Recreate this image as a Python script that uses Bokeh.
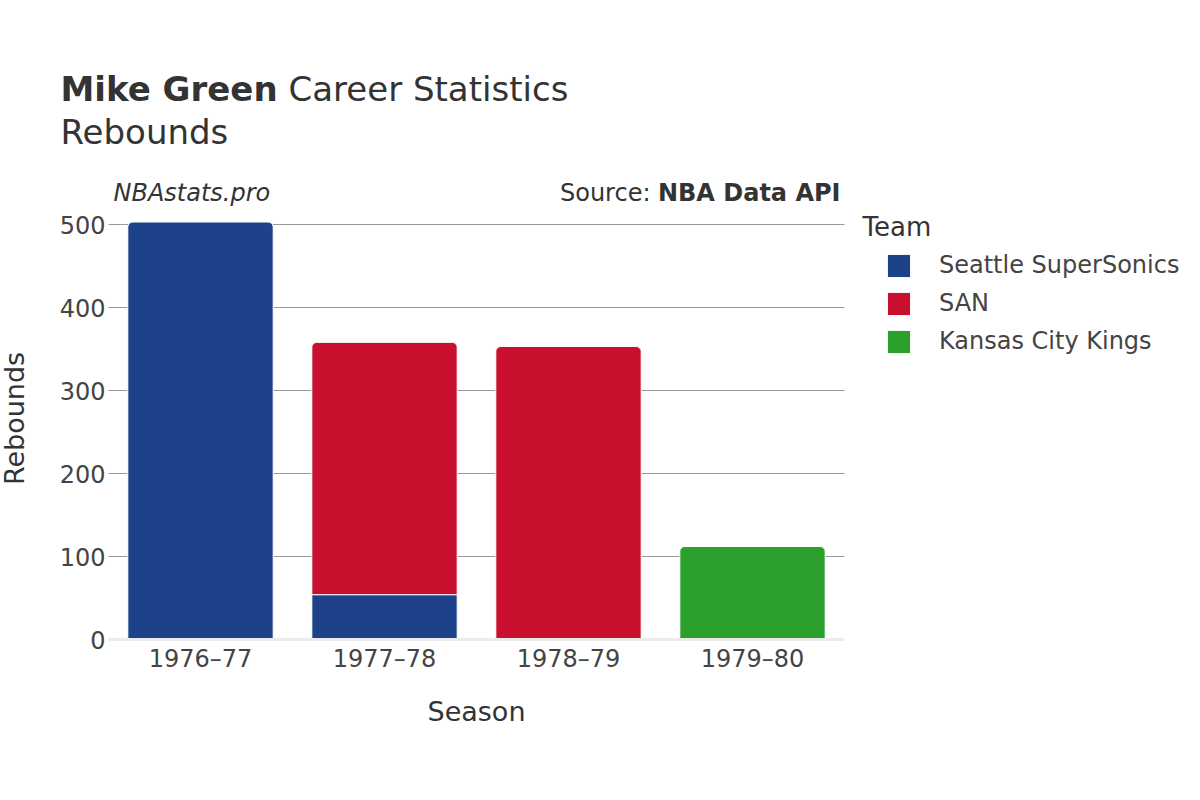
import math
from bokeh.plotting import figure
from bokeh.models import (ColumnDataSource, Range1d, Label, Legend, LegendItem,
                          FixedTicker)
from bokeh.embed import file_html
from bokeh.resources import INLINE

# ---- data ----
seasons = ["1976–77", "1977–78", "1978–79", "1979–80"]
teams = ["Seattle SuperSonics", "SAN", "Kansas City Kings"]
seattle = [503, 54, 0, 0]
san = [0, 304, 353, 0]
kc = [0, 0, 0, 112]
team_values = [seattle, san, kc]
team_colors = ["#1d428a", "#c8102e", "#2ca02c"]
y_ticks = [0, 100, 200, 300, 400, 500]

FONT = "DejaVu Sans"
TXT = "#444444"
TITLE = "#333333"

W, H = 1184, 784
# plot area in canvas pixels
FL, FR, FB = 108, 844, 639
PX_PER_CAT = (FR - FL) / len(seasons)
PX_PER_UNIT = 0.83

xpos = list(range(1, len(seasons) + 1))
x0 = 0.5 - FL / PX_PER_CAT
y0 = -(H - FB) / PX_PER_UNIT

p = figure(width=W, height=H,
           x_range=Range1d(x0, x0 + W / PX_PER_CAT),
           y_range=Range1d(y0, y0 + H / PX_PER_UNIT),
           output_backend="svg", toolbar_location=None,
           min_border_left=0, min_border_right=0, min_border_top=0,
           min_border_bottom=0)
p.title = None
p.outline_line_color = None
p.background_fill_color = "white"
p.border_fill_color = "white"
p.xgrid.visible = False
p.ygrid.visible = False

# ---- grid lines (from the tick list) ----
gy = y_ticks[1:]
p.segment(x0=[0.5] * len(gy), x1=[len(seasons) + 0.5] * len(gy), y0=gy, y1=gy,
          line_color="#999999", line_width=1)

# ---- bars (stacked) ----
cum = [0] * len(seasons)
legend_items = []
for ti, (team, vals, col) in enumerate(zip(teams, team_values, team_colors)):
    r_top = {"x": [], "bottom": [], "top": []}
    r_mid = {"x": [], "bottom": [], "top": []}
    for i, v in enumerate(vals):
        if v <= 0:
            continue
        b = cum[i]
        t = cum[i] + v
        cum[i] = t
        is_top = all(team_values[k][i] == 0 for k in range(ti + 1, len(teams)))
        d = r_top if is_top else r_mid
        d["x"].append(xpos[i]); d["bottom"].append(b); d["top"].append(t)
    rends = []
    if r_top["x"]:
        rends.append(p.vbar(x="x", bottom="bottom", top="top", width=0.79,
                            source=ColumnDataSource(r_top), fill_color=col,
                            line_color="white", line_width=1,
                            border_radius=(5, 5, 0, 0)))
    if r_mid["x"]:
        rends.append(p.vbar(x="x", bottom="bottom", top="top", width=0.79,
                            source=ColumnDataSource(r_mid), fill_color=col,
                            line_color="white", line_width=1))
    legend_items.append(LegendItem(label=team, renderers=rends[:1]))

# ---- axes (fixed inside the canvas) ----
xa = p.xaxis[0]
xa.fixed_location = 0
xa.bounds = (0.5, len(seasons) + 0.5)
xa.ticker = FixedTicker(ticks=xpos)
xa.major_label_overrides = {x: s for x, s in zip(xpos, seasons)}
xa.axis_line_color = "#ebebeb"
xa.axis_line_width = 3
xa.major_tick_line_color = None
xa.major_tick_out = 0
xa.major_tick_in = 0
xa.minor_tick_line_color = None
xa.minor_tick_out = 0
xa.major_label_standoff = 5
xa.major_label_text_font = FONT
xa.major_label_text_font_size = "24px"
xa.major_label_text_color = TXT

ya = p.yaxis[0]
ya.fixed_location = 0.5
ya.ticker = FixedTicker(ticks=y_ticks)
ya.axis_line_color = None
ya.major_tick_line_color = None
ya.major_tick_out = 0
ya.major_tick_in = 0
ya.minor_tick_line_color = None
ya.minor_tick_out = 0
ya.major_label_standoff = 3
ya.major_label_text_font = FONT
ya.major_label_text_font_size = "24px"
ya.major_label_text_color = TXT

# ---- legend ----
legend = Legend(items=legend_items, location=(884, H - 355.5), orientation="vertical",
                padding=0, margin=0, spacing=9, glyph_width=29, glyph_height=29,
                label_height=28, label_standoff=26,
                label_text_font=FONT, label_text_font_size="24px",
                label_text_color=TXT, background_fill_alpha=0,
                border_line_alpha=0)
p.add_layout(legend)

# ---- texts (screen units: x from left, y from bottom of canvas) ----
def lab(sx, sy, text, size, style="normal", color=TITLE, align="left", angle=0.0):
    p.add_layout(Label(x=sx, y=H - sy, x_units="screen", y_units="screen",
                       text=text, text_font=FONT, text_font_size=size,
                       text_font_style=style, text_color=color, text_align=align,
                       text_baseline="alphabetic", angle=angle))

lab(60, 88, "Mike Green", "34px", "bold")
lab(288, 88, "Career Statistics", "34px")
lab(60, 131, "Rebounds", "34px")
lab(113, 192, "NBAstats.pro", "24px", "italic", TITLE)
lab(840, 192, "NBA Data API", "24px", "bold", TITLE, "right")
lab(650, 192, "Source:", "24px", "normal", TITLE, "right")
lab(862, 226, "Team", "26px", "normal", TITLE)
lab(476, 711, "Season", "27px", "normal", TITLE, "center")
lab(14, 418, "Rebounds", "27px", "normal", TITLE, "center", math.pi / 2)

open("out.html", "w").write(file_html(p, INLINE))
